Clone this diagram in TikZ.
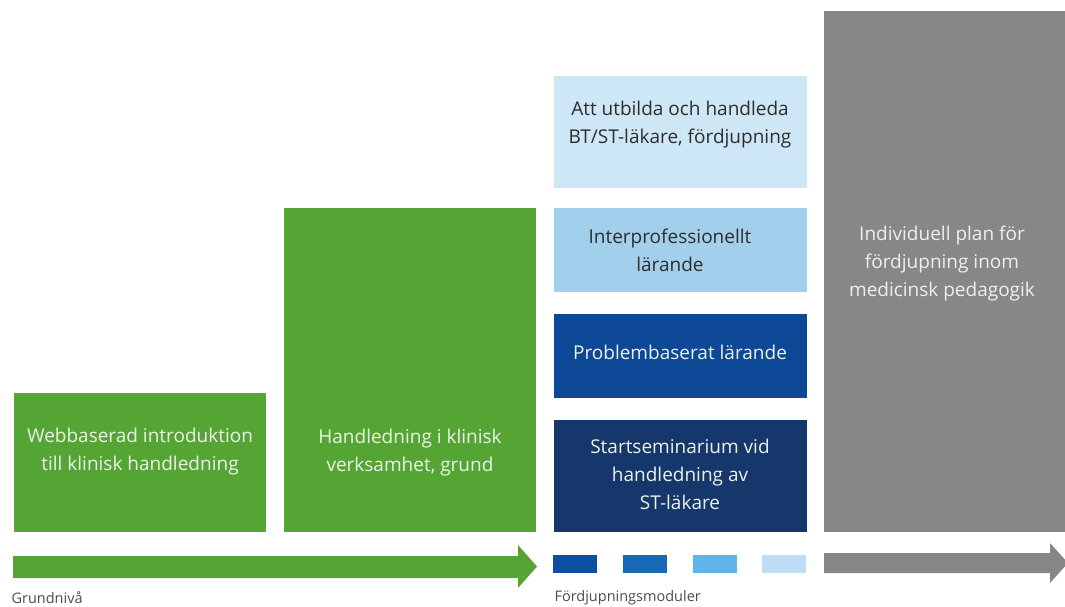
\documentclass[tikz,border=0pt]{standalone}
\usepackage{fontspec}
\setmainfont{Open Sans}
\usepackage{tikz}
\usetikzlibrary{calc}

\definecolor{grundgreen}{RGB}{85,165,53}
\definecolor{navyblue}{RGB}{22,55,107}
\definecolor{midblue}{RGB}{12,72,150}
\definecolor{skyblue}{RGB}{162,208,236}
\definecolor{paleblue}{RGB}{206,231,246}
\definecolor{plangray}{RGB}{135,135,135}
\definecolor{sqone}{RGB}{11,78,162}
\definecolor{sqtwo}{RGB}{22,105,180}
\definecolor{sqthree}{RGB}{96,180,232}
\definecolor{sqfour}{RGB}{188,221,245}
\definecolor{lighttext}{RGB}{236,242,232}
\definecolor{darktext}{RGB}{45,45,45}

\tikzset{
	block/.style={draw=none, inner sep=0pt, outer sep=0pt},
	txt/.style={align=center, font=\fontsize{19}{28}\selectfont, text=lighttext},
	small/.style={anchor=west, font=\fontsize{14.5}{16}\selectfont, text=darktext!85}
}

\begin{document}
\begin{tikzpicture}[x=1pt, y=-1pt]
		%%%%% START %%%%%
		\useasboundingbox (0, 0) rectangle (1065, 607);
		
		% grundniva
		\node[block, fill=grundgreen, minimum width=252pt, minimum height=139pt] (web) at (140, 462.5) {};
		\node[txt] (webtxt) at (140, 452) {Webbaserad introduktion\\till klinisk handledning};
		
		\node[block, fill=grundgreen, minimum width=252pt, minimum height=324pt] (klin) at (410, 370) {};
		\node[txt] (klintxt) at (410, 453) {Handledning i klinisk\\verksamhet, grund};
		
		% fordjupningsmoduler
		\node[block, fill=paleblue, minimum width=253pt, minimum height=112pt] (utb) at (680, 132) {};
		\node[txt, text=darktext] (utbtxt) at (680, 125) {Att utbilda och handleda\\BT/ST-läkare, fördjupning};
		
		\node[block, fill=skyblue, minimum width=253pt, minimum height=84pt] (inter) at (680, 250) {};
		\node[txt, text=darktext] (intertxt) at (670, 250) {Interprofessionellt\\lärande};
		
		\node[block, fill=midblue, minimum width=253pt, minimum height=84pt] (pbl) at (680, 355.5) {};
		\node[txt] (pbltxt) at (680, 352) {Problembaserat lärande};
		
		\node[block, fill=navyblue, minimum width=253pt, minimum height=112pt] (start) at (680, 476) {};
		\node[txt] (starttxt) at (680, 474) {Startseminarium vid\\handledning av\\ST-läkare};
		
		% individuell plan
		\node[block, fill=plangray, minimum width=242pt, minimum height=521pt] (plan) at (945, 271.5) {};
		\node[txt] (plantxt) at (942, 264) {Individuell plan för\\fördjupning inom\\medicinsk pedagogik};
		
		% bottom arrows
		\fill[grundgreen] (13, 556) -- (518, 556) -- (518, 545) -- (537, 566.5) -- (518, 588) -- (518, 578) -- (13, 578) -- cycle;
		
		\fill[sqone] (553, 555) rectangle (597, 573);
		\fill[sqtwo] (623, 555) rectangle (667, 573);
		\fill[sqthree] (693, 555) rectangle (737, 573);
		\fill[sqfour] (762, 555) rectangle (806, 573);
		
		\fill[plangray] (824, 553) -- (1050, 553) -- (1050, 543) -- (1068, 563) -- (1050, 583) -- (1050, 573) -- (824, 573) -- cycle;
		
		\node[small] (grund) at (8, 598) {Grundnivå};
		\node[small] (fordj) at (551, 598) {Fördjupningsmoduler};
		
		%%%%% END %%%%%
	\end{tikzpicture}
\end{document}
